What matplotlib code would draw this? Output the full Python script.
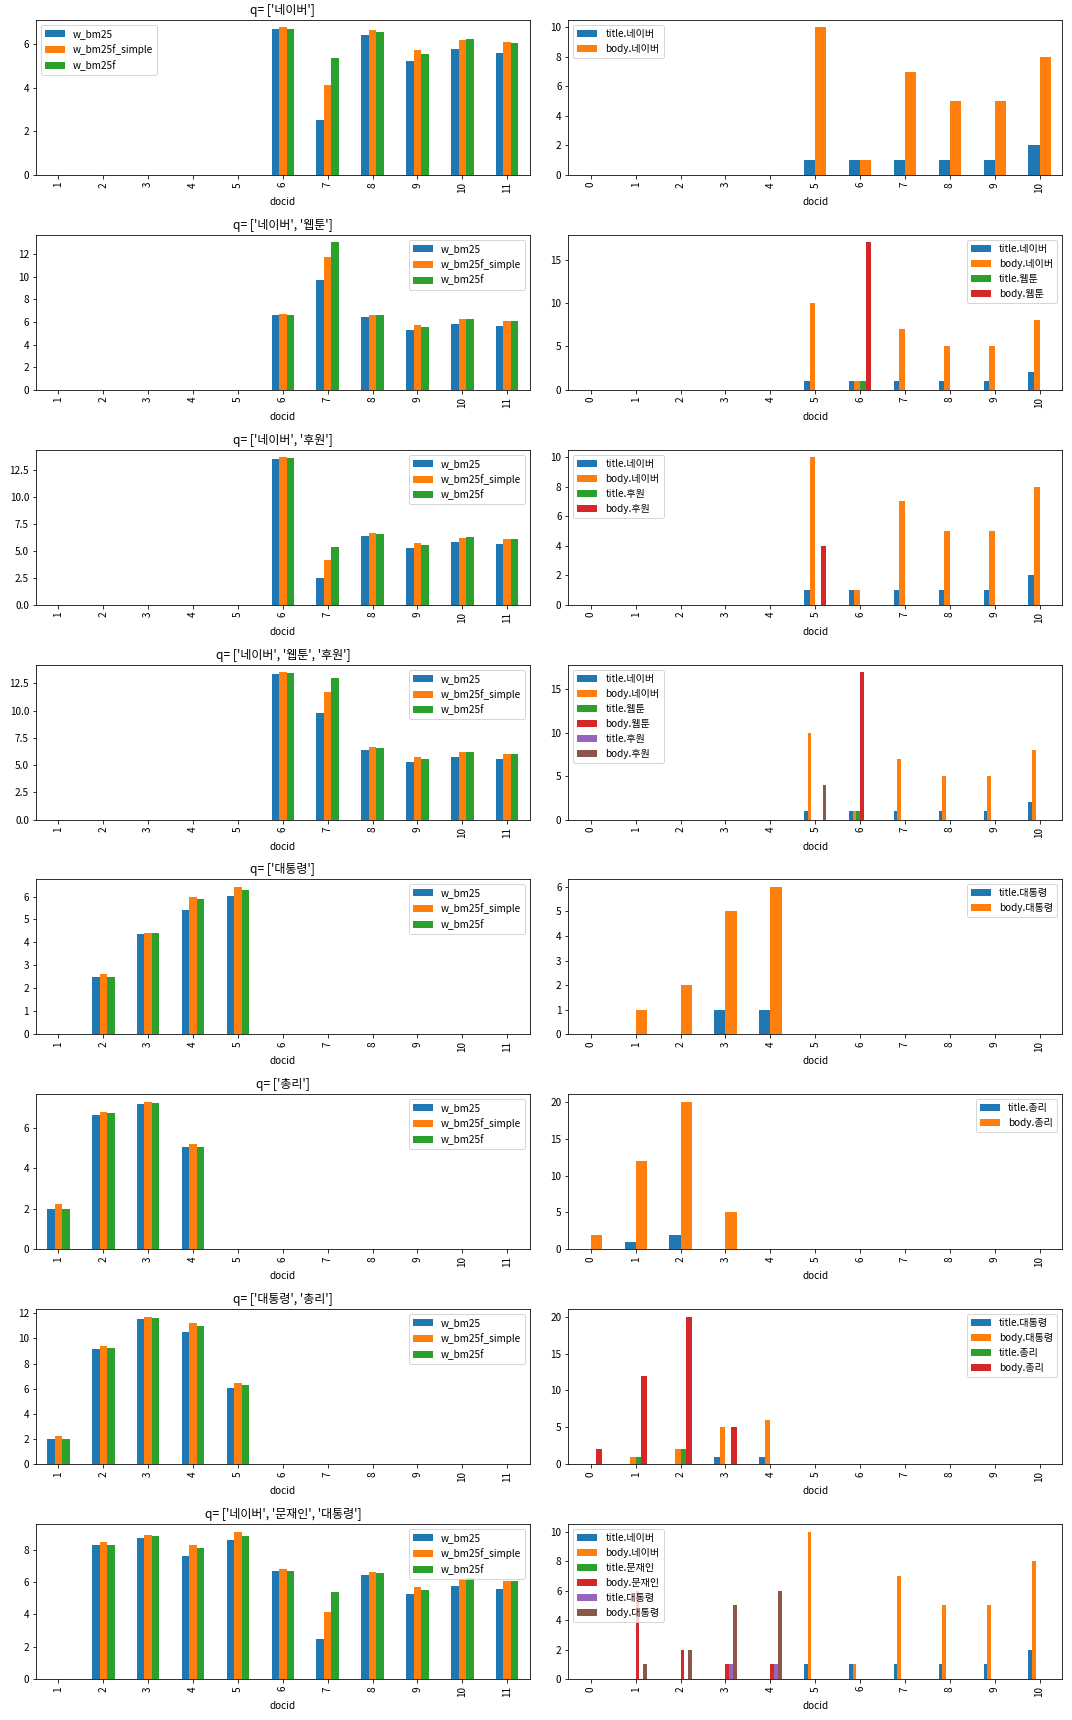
import matplotlib
matplotlib.use('Agg')
import matplotlib.pyplot as plt
import numpy as np

plt.rcParams['font.family'] = ['Noto Sans CJK KR', 'DejaVu Sans']
plt.rcParams['axes.unicode_minus'] = False
plt.rcParams['font.size'] = 10

# ---------------- data ----------------
left_docids = ['1', '2', '3', '4', '5', '6', '7', '8', '9', '10', '11']
right_docids = ['0', '1', '2', '3', '4', '5', '6', '7', '8', '9', '10']
score_names = ['w_bm25', 'w_bm25f_simple', 'w_bm25f']

titles = ["q= ['네이버']",
          "q= ['네이버', '웹툰']",
          "q= ['네이버', '후원']",
          "q= ['네이버', '웹툰', '후원']",
          "q= ['대통령']",
          "q= ['총리']",
          "q= ['대통령', '총리']",
          "q= ['네이버', '문재인', '대통령']"]

# left panels: scores per docid (w_bm25, w_bm25f_simple, w_bm25f)
q1_w_bm25 = [0, 0, 0, 0, 0, 6.70, 2.50, 6.42, 5.25, 5.78, 5.60]
q1_simple = [0, 0, 0, 0, 0, 6.78, 4.15, 6.65, 5.73, 6.20, 6.10]
q1_bm25f = [0, 0, 0, 0, 0, 6.70, 5.38, 6.57, 5.55, 6.23, 6.05]

q2_w_bm25 = [0, 0, 0, 0, 0, 6.65, 9.75, 6.40, 5.25, 5.78, 5.60]
q2_simple = [0, 0, 0, 0, 0, 6.72, 11.75, 6.65, 5.70, 6.22, 6.05]
q2_bm25f = [0, 0, 0, 0, 0, 6.65, 13.05, 6.57, 5.52, 6.22, 6.05]

q3_w_bm25 = [0, 0, 0, 0, 0, 13.50, 2.50, 6.42, 5.25, 5.78, 5.60]
q3_simple = [0, 0, 0, 0, 0, 13.70, 4.15, 6.62, 5.70, 6.15, 6.07]
q3_bm25f = [0, 0, 0, 0, 0, 13.60, 5.35, 6.52, 5.52, 6.25, 6.07]

q4_w_bm25 = [0, 0, 0, 0, 0, 13.40, 9.80, 6.40, 5.25, 5.78, 5.60]
q4_simple = [0, 0, 0, 0, 0, 13.55, 11.75, 6.65, 5.70, 6.22, 6.05]
q4_bm25f = [0, 0, 0, 0, 0, 13.50, 13.00, 6.55, 5.52, 6.22, 6.02]

q5_w_bm25 = [0, 2.50, 4.35, 5.42, 6.03, 0, 0, 0, 0, 0, 0]
q5_simple = [0, 2.63, 4.43, 5.98, 6.42, 0, 0, 0, 0, 0, 0]
q5_bm25f = [0, 2.50, 4.40, 5.88, 6.28, 0, 0, 0, 0, 0, 0]

q6_w_bm25 = [2.00, 6.65, 7.20, 5.08, 0, 0, 0, 0, 0, 0, 0]
q6_simple = [2.25, 6.80, 7.30, 5.23, 0, 0, 0, 0, 0, 0, 0]
q6_bm25f = [1.97, 6.75, 7.25, 5.08, 0, 0, 0, 0, 0, 0, 0]

q7_w_bm25 = [2.00, 9.15, 11.55, 10.50, 6.03, 0, 0, 0, 0, 0, 0]
q7_simple = [2.25, 9.43, 11.73, 11.20, 6.42, 0, 0, 0, 0, 0, 0]
q7_bm25f = [1.97, 9.25, 11.65, 11.00, 6.28, 0, 0, 0, 0, 0, 0]

q8_w_bm25 = [0, 8.27, 8.75, 7.60, 8.57, 6.67, 2.50, 6.43, 5.27, 5.77, 5.58]
q8_simple = [0, 8.45, 8.93, 8.27, 9.12, 6.80, 4.17, 6.62, 5.70, 6.20, 6.07]
q8_bm25f = [0, 8.27, 8.82, 8.08, 8.87, 6.67, 5.40, 6.55, 5.52, 6.22, 6.07]

# right panels: term frequencies per docid
tf_title_naver = [0, 0, 0, 0, 0, 1, 1, 1, 1, 1, 2]
tf_body_naver = [0, 0, 0, 0, 0, 10, 1, 7, 5, 5, 8]
tf_title_webtoon = [0, 0, 0, 0, 0, 0, 1, 0, 0, 0, 0]
tf_body_webtoon = [0, 0, 0, 0, 0, 0, 17, 0, 0, 0, 0]
tf_title_huwon = [0, 0, 0, 0, 0, 0, 0, 0, 0, 0, 0]
tf_body_huwon = [0, 0, 0, 0, 0, 4, 0, 0, 0, 0, 0]
tf_title_president = [0, 0, 0, 1, 1, 0, 0, 0, 0, 0, 0]
tf_body_president = [0, 1, 2, 5, 6, 0, 0, 0, 0, 0, 0]
tf_title_pm = [0, 1, 2, 0, 0, 0, 0, 0, 0, 0, 0]
tf_body_pm = [2, 12, 20, 5, 0, 0, 0, 0, 0, 0, 0]
tf_title_moon = [0, 0, 0, 0, 0, 0, 0, 0, 0, 0, 0]
tf_body_moon = [0, 6, 2, 1, 1, 0, 0, 0, 0, 0, 0]

left_data = [
    (q1_w_bm25, q1_simple, q1_bm25f),
    (q2_w_bm25, q2_simple, q2_bm25f),
    (q3_w_bm25, q3_simple, q3_bm25f),
    (q4_w_bm25, q4_simple, q4_bm25f),
    (q5_w_bm25, q5_simple, q5_bm25f),
    (q6_w_bm25, q6_simple, q6_bm25f),
    (q7_w_bm25, q7_simple, q7_bm25f),
    (q8_w_bm25, q8_simple, q8_bm25f),
]
left_legend_loc = ['upper left', 'upper right', 'upper right', 'upper right',
                   'upper right', 'upper right', 'upper right', 'upper right']

right_data = [
    [('title.네이버', tf_title_naver), ('body.네이버', tf_body_naver)],
    [('title.네이버', tf_title_naver), ('body.네이버', tf_body_naver),
     ('title.웹툰', tf_title_webtoon), ('body.웹툰', tf_body_webtoon)],
    [('title.네이버', tf_title_naver), ('body.네이버', tf_body_naver),
     ('title.후원', tf_title_huwon), ('body.후원', tf_body_huwon)],
    [('title.네이버', tf_title_naver), ('body.네이버', tf_body_naver),
     ('title.웹툰', tf_title_webtoon), ('body.웹툰', tf_body_webtoon),
     ('title.후원', tf_title_huwon), ('body.후원', tf_body_huwon)],
    [('title.대통령', tf_title_president), ('body.대통령', tf_body_president)],
    [('title.총리', tf_title_pm), ('body.총리', tf_body_pm)],
    [('title.대통령', tf_title_president), ('body.대통령', tf_body_president),
     ('title.총리', tf_title_pm), ('body.총리', tf_body_pm)],
    [('title.네이버', tf_title_naver), ('body.네이버', tf_body_naver),
     ('title.문재인', tf_title_moon), ('body.문재인', tf_body_moon),
     ('title.대통령', tf_title_president), ('body.대통령', tf_body_president)],
]
right_legend_loc = ['upper left', 'upper right', 'upper left', 'upper left',
                    'upper right', 'upper right', 'upper right', 'upper left']

colors = plt.rcParams['axes.prop_cycle'].by_key()['color']


def grouped_bars(ax, labels, names, series, loc):
    n = len(series)
    w = 0.5 / n
    x = np.arange(len(labels))
    for i, (name, vals) in enumerate(zip(names, series)):
        ax.bar(x - 0.25 + (i + 0.5) * w, vals, w, label=name, color=colors[i])
    ax.set_xticks(x)
    ax.set_xticklabels(labels, rotation=90)
    ax.set_xlim(-0.5, len(labels) - 0.5)
    ax.set_xlabel('docid')
    ax.legend(loc=loc)


fig, axes = plt.subplots(8, 2, figsize=(1072 / 72, 1720 / 72), dpi=72)
fig.subplots_adjust(left=0.0336, right=0.9907, top=0.9884, bottom=0.0238,
                    wspace=0.0786, hspace=0.387)

for r in range(8):
    axl = axes[r, 0]
    grouped_bars(axl, left_docids, score_names, left_data[r], left_legend_loc[r])
    axl.set_title(titles[r])
    axr = axes[r, 1]
    names = [n for n, _ in right_data[r]]
    vals = [v for _, v in right_data[r]]
    grouped_bars(axr, right_docids, names, vals, right_legend_loc[r])

fig.savefig('out.png', dpi=72)
